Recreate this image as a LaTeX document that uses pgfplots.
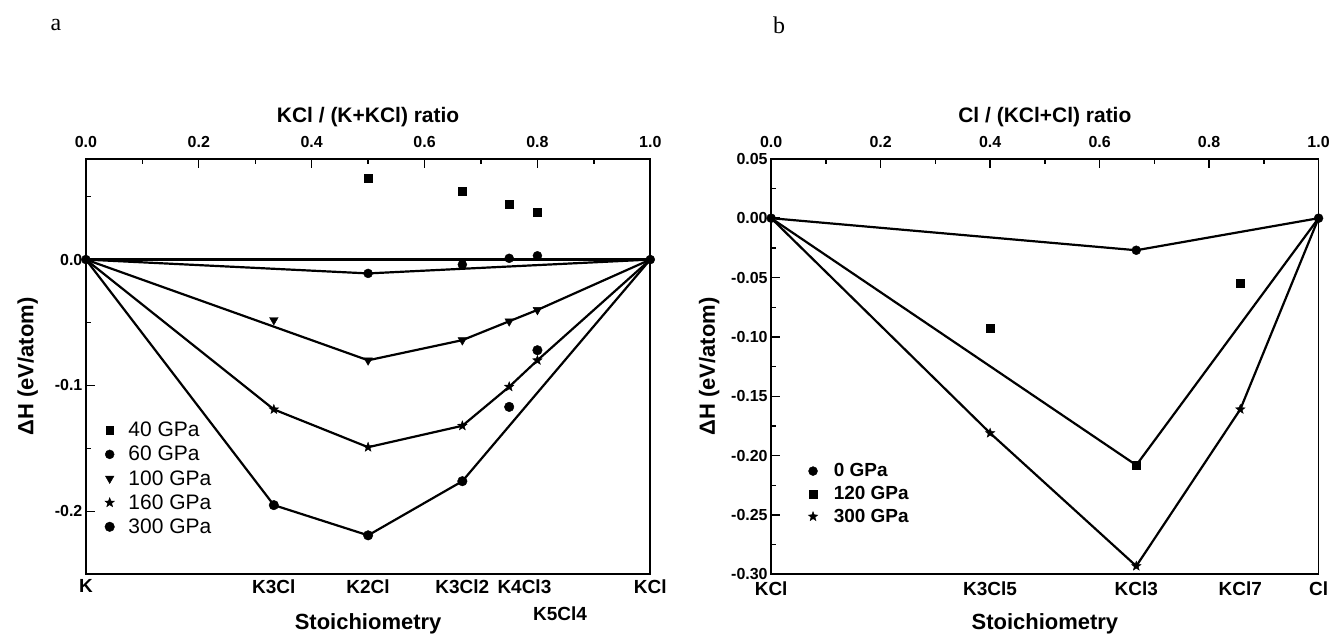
\documentclass[border=0pt]{standalone}
\usepackage{pgfplots}
\pgfplotsset{compat=1.18}
\usepackage{fontspec}
\setmainfont{Liberation Sans}
\newfontfamily\timesfont{Liberation Serif}

\pgfdeclareplotmark{fstar}{%
  \pgfpathmoveto{\pgfpointpolar{90}{\pgfplotmarksize}}%
  \pgfpathlineto{\pgfpointpolar{126}{0.42*\pgfplotmarksize}}%
  \pgfpathlineto{\pgfpointpolar{162}{\pgfplotmarksize}}%
  \pgfpathlineto{\pgfpointpolar{198}{0.42*\pgfplotmarksize}}%
  \pgfpathlineto{\pgfpointpolar{234}{\pgfplotmarksize}}%
  \pgfpathlineto{\pgfpointpolar{270}{0.42*\pgfplotmarksize}}%
  \pgfpathlineto{\pgfpointpolar{306}{\pgfplotmarksize}}%
  \pgfpathlineto{\pgfpointpolar{342}{0.42*\pgfplotmarksize}}%
  \pgfpathlineto{\pgfpointpolar{18}{\pgfplotmarksize}}%
  \pgfpathlineto{\pgfpointpolar{54}{0.42*\pgfplotmarksize}}%
  \pgfpathclose
  \pgfusepathqfillstroke
}

\pgfplotsset{
  base/.style={
    scale only axis, clip=false,
    axis line style={line width=1.8pt},
    tick style={line width=1.4pt, black},
    major tick length=9pt, minor tick length=5pt,
    tick align=inside,
    /pgf/number format/assume math mode=true,
    tick label style={font=\bfseries\fontsize{16}{16}\selectfont},
    label style={font=\bfseries\fontsize{22}{22}\selectfont},
  },
  hull/.style={line width=2.2pt, black, forget plot},
}

\begin{document}
\begin{tikzpicture}[x=1pt,y=1pt]
\path (0,0) rectangle (1333,641);
\node[font=\timesfont\fontsize{24}{24}\selectfont] at (56,616) {a};
\node[font=\timesfont\fontsize{24}{24}\selectfont] at (780,616) {b};

% ---------------- panel a ----------------
\begin{axis}[base,
  at={(86pt,66pt)}, anchor=south west, width=565pt, height=416pt,
  xmin=0, xmax=1, ymin=-0.25, ymax=0.08,
  xtick={0,0.333,0.5,0.667,0.777,1},
  xticklabels={K,K3Cl,K2Cl,K3Cl2,K4Cl3,KCl},
  extra x ticks={0.84}, extra x tick labels={K5Cl4},
  extra x tick style={xticklabel style={yshift=-27pt}},
  xtick style={draw=none},
  xticklabel style={yshift=-2pt, font=\bfseries\fontsize{19}{19}\selectfont},
  ytick={-0.3,-0.2,-0.1,0,0.1}, minor y tick num=1, ytick pos=left,
  yticklabel style={/pgf/number format/.cd,fixed,fixed zerofill,precision=1},
  xlabel={Stoichiometry}, ylabel={ΔH (eV/atom)},
  xlabel style={at={(axis description cs:0.5,-0.12)}, anchor=center},
  ylabel style={at={(axis description cs:-0.103,0.5)}, anchor=center},
  legend style={at={(axis description cs:0.028,0.374)}, anchor=north west,
    draw=none, fill=none, font=\fontsize{21}{21}\selectfont,
    nodes={inner sep=1pt}, row sep=6pt,
    /tikz/every odd column/.append style={column sep=13pt}},
  legend cell align=left,
]
% hulls
\addplot[hull] coordinates {(0,0) (1,0)};
\addplot[hull] coordinates {(0,0) (0.5,-0.011) (1,0)};
\addplot[hull] coordinates {(0,0) (0.5,-0.080) (0.667,-0.064) (0.75,-0.049) (0.8,-0.040) (1,0)};
\addplot[hull] coordinates {(0,0) (0.333,-0.119) (0.5,-0.149) (0.667,-0.132) (0.75,-0.101) (0.8,-0.080) (1,0)};
\addplot[hull] coordinates {(0,0) (0.333,-0.195) (0.5,-0.219) (0.667,-0.176) (1,0)};
% points
\addplot[only marks, mark=square*, mark size=4pt] coordinates {(0.5,0.065) (0.667,0.054) (0.75,0.044) (0.8,0.038)};
\addplot[only marks, mark=*, mark size=4.5pt] coordinates {(0,0) (0.5,-0.011) (0.667,-0.004) (0.75,0.001) (0.8,0.003) (1,0)};
\addplot[only marks, mark=triangle*, mark size=5pt, mark options={rotate=180}] coordinates {(0.333,-0.048) (0.5,-0.080) (0.667,-0.064) (0.75,-0.049) (0.8,-0.040)};
\addplot[only marks, mark=fstar, mark size=5pt] coordinates {(0.333,-0.119) (0.5,-0.149) (0.667,-0.132) (0.75,-0.101) (0.8,-0.080)};
\addplot[only marks, mark=*, mark size=4.8pt] coordinates {(0.333,-0.195) (0.5,-0.219) (0.667,-0.176) (0.75,-0.117) (0.8,-0.072)};
\legend{40 GPa, 60 GPa, 100 GPa, 160 GPa, 300 GPa}
\end{axis}

\begin{axis}[base,
  at={(86pt,66pt)}, anchor=south west, width=565pt, height=416pt,
  xmin=0, xmax=1, ymin=0, ymax=1,
  axis x line*=top, axis y line=none, tick align=inside,
  xtick={0,0.2,0.4,0.6,0.8,1}, minor x tick num=1,
  xticklabel style={yshift=8pt,/pgf/number format/.cd,fixed,fixed zerofill,precision=1},
  xlabel={KCl / (K+KCl) ratio},
  xlabel style={at={(axis description cs:0.5,1.1)}, anchor=center, font=\bfseries\fontsize{21}{21}\selectfont},
]
\addplot[draw=none] coordinates {(0,0)};
\end{axis}

% ---------------- panel b ----------------
\begin{axis}[base,
  at={(772pt,66pt)}, anchor=south west, width=548pt, height=416pt,
  xmin=0, xmax=1, ymin=-0.30, ymax=0.05,
  xtick={0,0.4,0.667,0.857,1},
  xticklabels={KCl,K3Cl5,KCl3,KCl7,Cl},
  xtick style={draw=none},
  xticklabel style={yshift=-4pt, font=\bfseries\fontsize{19}{19}\selectfont},
  ytick={-0.30,-0.25,-0.20,-0.15,-0.10,-0.05,0,0.05}, minor y tick num=1, ytick pos=left,
  yticklabel style={/pgf/number format/.cd,fixed,fixed zerofill,precision=2},
  xlabel={Stoichiometry}, ylabel={ΔH (eV/atom)},
  xlabel style={at={(axis description cs:0.5,-0.12)}, anchor=center},
  ylabel style={at={(axis description cs:-0.113,0.5)}, anchor=center},
  legend style={at={(axis description cs:0.062,0.274)}, anchor=north west,
    draw=none, fill=none, font=\bfseries\fontsize{19}{19}\selectfont,
    nodes={inner sep=1pt}, row sep=6pt,
    /tikz/every odd column/.append style={column sep=15pt}},
  legend cell align=left,
]
\addplot[hull] coordinates {(0,0) (0.667,-0.027) (1,0)};
\addplot[hull] coordinates {(0,0) (0.667,-0.208) (1,0)};
\addplot[hull] coordinates {(0,0) (0.4,-0.181) (0.667,-0.293) (0.857,-0.161) (1,0)};
\addplot[only marks, mark=*, mark size=4.5pt] coordinates {(0,0) (0.667,-0.027) (1,0)};
\addplot[only marks, mark=square*, mark size=4pt] coordinates {(0.4,-0.093) (0.667,-0.208) (0.857,-0.055)};
\addplot[only marks, mark=fstar, mark size=5pt] coordinates {(0.4,-0.181) (0.667,-0.293) (0.857,-0.161)};
\legend{0 GPa, 120 GPa, 300 GPa}
\end{axis}

\begin{axis}[base,
  at={(772pt,66pt)}, anchor=south west, width=548pt, height=416pt,
  xmin=0, xmax=1, ymin=0, ymax=1,
  axis x line*=top, axis y line=none, tick align=inside,
  xtick={0,0.2,0.4,0.6,0.8,1}, minor x tick num=1,
  xticklabel style={yshift=8pt,/pgf/number format/.cd,fixed,fixed zerofill,precision=1},
  xlabel={Cl / (KCl+Cl) ratio},
  xlabel style={at={(axis description cs:0.5,1.1)}, anchor=center, font=\bfseries\fontsize{21}{21}\selectfont},
]
\addplot[draw=none] coordinates {(0,0)};
\end{axis}
\end{tikzpicture}
\end{document}
